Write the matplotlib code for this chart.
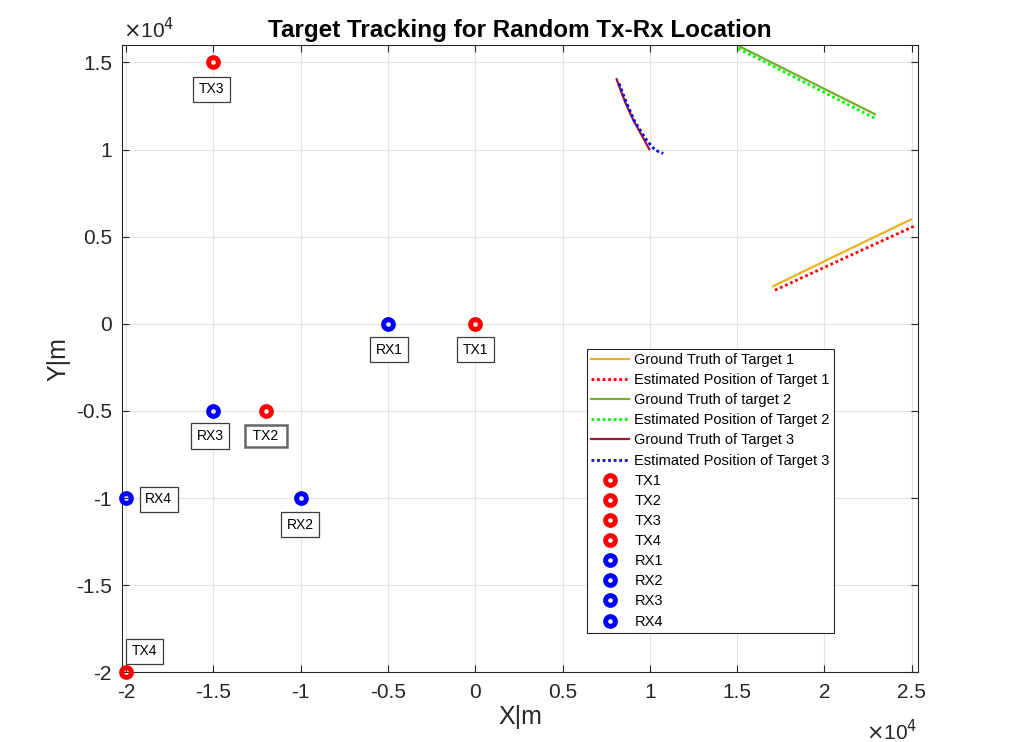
import numpy as np
import matplotlib
matplotlib.use('Agg')
import matplotlib.pyplot as plt
from matplotlib.ticker import FixedLocator, FuncFormatter

plt.rcParams['font.family'] = ['Liberation Sans', 'DejaVu Sans']

# trajectories (x, y) in metres
gt1_x = [17070, 21000, 24960]
gt1_y = [2160, 4080, 5990]
est1_x = [17170, 21150, 25150]
est1_y = [1930, 3770, 5610]

gt2_x = [15010, 18950, 22900]
gt2_y = [15990, 14010, 12030]
est2_x = [15070, 19000, 22900]
est2_y = [15800, 13790, 11790]

gt3_x = [8100, 8580, 9055, 9535, 9970]
gt3_y = [14040, 12740, 11690, 10830, 10020]
est3_x = [8235, 8680, 9150, 9820, 10300, 10770]
est3_y = [13790, 12650, 11590, 10540, 9970, 9780]

tx_x = [0, -12000, -15000, -20000]
tx_y = [0, -5000, 15000, -20000]
rx_x = [-5000, -10000, -15000, -20000]
rx_y = [0, -10000, -5000, -10000]

tx_names = ['TX1', 'TX2', 'TX3', 'TX4']
rx_names = ['RX1', 'RX2', 'RX3', 'RX4']

# label box centres
tx_lab_x = [30, -12000, -15100, -18930]
tx_lab_y = [-1400, -6350, 13550, -18700]
rx_lab_x = [-4930, -10030, -15170, -18130]
rx_lab_y = [-1400, -11450, -6350, -9980]

fig = plt.figure(figsize=(10.21, 7.42), dpi=100)
ax = fig.add_axes([0.1192, 0.0939, 0.7802, 0.8454])

ax.plot(gt1_x, gt1_y, color='#EDB120', lw=1.6, label='Ground Truth of Target 1')
ax.plot(est1_x, est1_y, color='red', lw=2, ls=(0, (1, 1)), label='Estimated Position of Target 1')
ax.plot(gt2_x, gt2_y, color='#77AC30', lw=1.6, label='Ground Truth of target 2')
ax.plot(est2_x, est2_y, color='#00FF00', lw=2, ls=(0, (1, 1)), label='Estimated Position of Target 2')
ax.plot(gt3_x, gt3_y, color='#A2142F', lw=1.6, label='Ground Truth of Target 3')
ax.plot(est3_x, est3_y, color='blue', lw=2, ls=(0, (1, 1)), label='Estimated Position of Target 3')

for i in range(4):
    ax.plot(tx_x[i], tx_y[i], 'o', color='red', mfc='none', ms=7, mew=3.6,
            label=tx_names[i], clip_on=False, zorder=5)
for i in range(4):
    ax.plot(rx_x[i], rx_y[i], 'o', color='blue', mfc='none', ms=7, mew=3.6,
            label=rx_names[i], clip_on=False, zorder=5)

box = dict(boxstyle='square,pad=0.4', fc='white', ec='#3a3a3a', lw=0.9)
for i in range(4):
    name = tx_names[i]
    b = box
    if name == 'TX2':
        name = ' TX2 '
        b = dict(boxstyle='square,pad=0.32', fc='white', ec='#666666', lw=1.8)
    ax.text(tx_lab_x[i], tx_lab_y[i], name, ha='center', va='center_baseline',
            fontsize=10, bbox=b)
for i in range(4):
    ax.text(rx_lab_x[i], rx_lab_y[i], rx_names[i], ha='center', va='center_baseline',
            fontsize=10, bbox=box)

ax.set_xlim(-20250, 25380)
ax.set_ylim(-20000, 16000)

ax.xaxis.set_major_locator(FixedLocator(np.arange(-20000, 25001, 5000)))
ax.yaxis.set_major_locator(FixedLocator(np.arange(-20000, 15001, 5000)))
fmt = FuncFormatter(lambda v, p: '%g' % (v / 1e4))
ax.xaxis.set_major_formatter(fmt)
ax.yaxis.set_major_formatter(fmt)

ax.grid(True, color='#e3e3e3', lw=0.8)
ax.set_axisbelow(True)
ax.tick_params(direction='in', length=5, width=0.8, colors='#262626', labelsize=15,
               top=True, right=True, labelcolor='#262626')
ax.tick_params(axis='x', pad=8)
ax.tick_params(axis='y', pad=7)
for s in ax.spines.values():
    s.set_color('#262626')
    s.set_linewidth(0.8)

ax.set_xlabel('X|m', fontsize=18, color='#262626', labelpad=2)
ax.set_ylabel('Y|m', fontsize=18, color='#262626', labelpad=4)
ax.set_title('Target Tracking for Random Tx-Rx Location', fontsize=17.5, fontweight='bold', pad=6)

fig.text(0.1205, 0.949, r'$\times$10$^4$', fontsize=15, color='#262626', ha='left', va='baseline',
         math_fontfamily='dejavusans')
fig.text(0.898, 0.003, r'$\times$10$^4$', fontsize=15, color='#262626', ha='right', va='baseline',
         math_fontfamily='dejavusans')

leg = ax.legend(loc='lower left', bbox_to_anchor=(0.584, 0.0627), borderaxespad=0,
                fontsize=10.5, fancybox=False, framealpha=1, edgecolor='#262626',
                handlelength=2.6, handletextpad=0.35, labelspacing=0.42, borderpad=0.3,
                numpoints=1)
leg.get_frame().set_linewidth(0.8)

fig.savefig('out.png', dpi=100)
